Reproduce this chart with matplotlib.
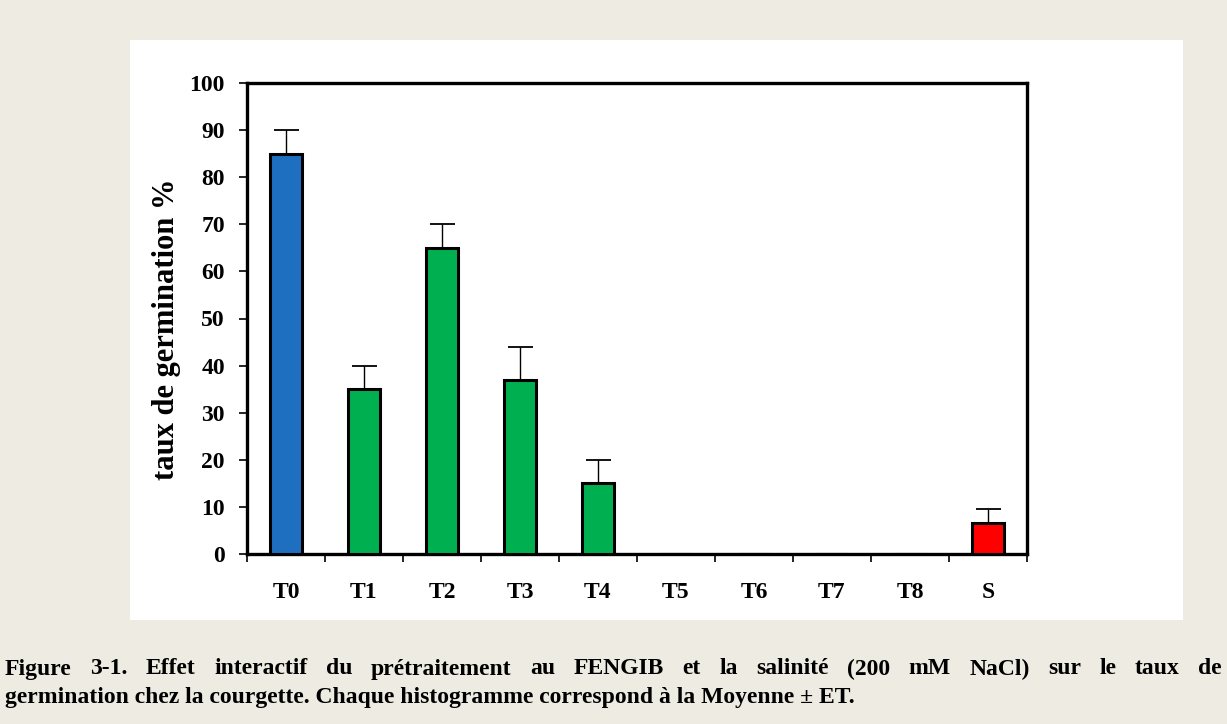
import matplotlib
matplotlib.use("Agg")
import matplotlib.pyplot as plt
from matplotlib.patches import Rectangle

categories = ["T0", "T1", "T2", "T3", "T4", "T5", "T6", "T7", "T8", "S"]
values = [85, 35, 65, 37, 15, 0, 0, 0, 0, 6.5]
errors = [5, 5, 5, 7, 5, 0, 0, 0, 0, 3]
colors = ["#1F6FC1", "#00B050", "#00B050", "#00B050", "#00B050",
          "#00B050", "#00B050", "#00B050", "#00B050", "#FF0000"]
yticks = [0, 10, 20, 30, 40, 50, 60, 70, 80, 90, 100]
ylabel = "taux de germination %"
caption1 = "Figure 3-1. Effet interactif du prétraitement au FENGIB et la salinité (200 mM NaCl) sur le taux de"
caption2 = "germination chez la courgette. Chaque histogramme correspond à la Moyenne ± ET."

W, H = 1227, 724
fig = plt.figure(figsize=(W / 100, H / 100), dpi=100)
fig.patch.set_facecolor("#EEECE2")
fig.patches.append(Rectangle((130 / W, 1 - 620 / H), (1183 - 130) / W, (620 - 40) / H,
                             transform=fig.transFigure, facecolor="white",
                             edgecolor="none", zorder=-5))

serif = ["Liberation Serif", "DejaVu Serif"]
ax = fig.add_axes([247 / W, 1 - 554 / H, (1027 - 247) / W, (554 - 83) / H])
ax.set_zorder(2)
ax.set_facecolor("white")
x = list(range(len(categories)))
ax.bar(x, values, width=0.42, color=colors, edgecolor="black", linewidth=2.2, zorder=3)
for xi, v, e in zip(x, values, errors):
    if e > 0:
        ax.errorbar([xi], [v], yerr=[[0], [e]], fmt="none", ecolor="black",
                    elinewidth=1, capsize=9, capthick=1.3, zorder=2)

ax.set_xlim(-0.5, len(categories) - 0.5)
ax.set_ylim(0, 100)
ax.set_yticks(yticks)
ax.set_yticklabels([str(t) for t in yticks], fontfamily=serif, fontweight="bold", fontsize=17)
ax.set_xticks([i - 0.5 for i in range(len(categories) + 1)])
ax.set_xticklabels([])
ax.set_xticks(x, minor=True)
ax.set_xticklabels(categories, minor=True, fontfamily=serif, fontweight="bold", fontsize=17)
ax.tick_params(axis="x", which="minor", length=0, pad=20)
ax.tick_params(axis="x", which="major", length=6, width=1.2, direction="out")
ax.tick_params(axis="y", length=6, width=1.2, direction="out", pad=10)
for s in ax.spines.values():
    s.set_linewidth(2.4)
ax.set_ylabel(ylabel, fontfamily=serif, fontweight="bold", fontsize=22)
ax.yaxis.set_label_coords(-0.085, 0.478)

# justified caption line 1
fig.canvas.draw()
renderer = fig.canvas.get_renderer()
words = caption1.split(" ")
left, right = 5 / W, 1222 / W
y1 = 1 - 669 / H
texts = []
widths = []
for w in words:
    t = fig.text(0, y1, w, fontfamily=serif, fontweight="bold", fontsize=17, va="center")
    bb = t.get_window_extent(renderer)
    texts.append(t)
    widths.append(bb.width / W)
gap = (right - left - sum(widths)) / (len(words) - 1)
pos = left
for t, wd in zip(texts, widths):
    t.set_x(pos)
    pos += wd + gap
fig.text(left, 1 - 697 / H, caption2, fontfamily=serif, fontweight="bold", fontsize=17, va="center")

fig.savefig("out.png", dpi=100, facecolor=fig.get_facecolor())
